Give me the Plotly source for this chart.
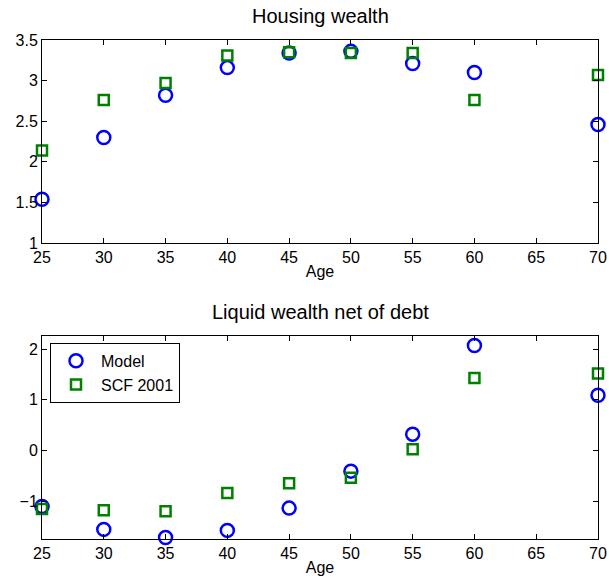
import plotly.graph_objects as go
from plotly.subplots import make_subplots

ages = [25, 30, 35, 40, 45, 50, 55, 60, 70]
housing_model = [1.54, 2.30, 2.82, 3.16, 3.34, 3.36, 3.21, 3.10, 2.46]
housing_scf = [2.14, 2.76, 2.97, 3.31, 3.35, 3.34, 3.34, 2.76, 3.07]
liquid_model = [-1.11, -1.56, -1.72, -1.58, -1.14, -0.41, 0.32, 2.07, 1.09]
liquid_scf = [-1.16, -1.18, -1.20, -0.84, -0.65, -0.54, 0.02, 1.43, 1.52]

x_ticks = [25, 30, 35, 40, 45, 50, 55, 60, 65, 70]
top_ticks = [1, 1.5, 2, 2.5, 3, 3.5]
bottom_ticks = [-1, 0, 1, 2]

BLUE = "rgb(0,0,255)"
GREEN = "rgb(0,128,0)"
FONT = "Liberation Sans, Arial, sans-serif"

fig = make_subplots(rows=2, cols=1, vertical_spacing=0.186)

circle = dict(symbol="circle-open", size=13, color=BLUE, line=dict(width=2.5, color=BLUE))
square = dict(symbol="square-open", size=10, color=GREEN, line=dict(width=2.5, color=GREEN))

fig.add_trace(go.Scatter(x=ages, y=housing_model, mode="markers", marker=circle,
                         name="Model", showlegend=False, cliponaxis=False), row=1, col=1)
fig.add_trace(go.Scatter(x=ages, y=housing_scf, mode="markers", marker=square,
                         name="SCF 2001", showlegend=False, cliponaxis=False), row=1, col=1)
fig.add_trace(go.Scatter(x=ages, y=liquid_model, mode="markers", marker=circle,
                         name="Model", showlegend=True, cliponaxis=False), row=2, col=1)
fig.add_trace(go.Scatter(x=ages, y=liquid_scf, mode="markers", marker=square,
                         name="SCF 2001", showlegend=True, cliponaxis=False), row=2, col=1)

axis_common = dict(showgrid=False, zeroline=False, showline=True, linecolor="black",
                   linewidth=1, mirror="ticks", ticks="inside", ticklen=5, automargin=False,
                   tickcolor="black", tickfont=dict(family=FONT, size=16, color="black"))

for r in (1, 2):
    fig.update_xaxes(range=[25, 70], tickvals=x_ticks, ticktext=[str(t) for t in x_ticks],
                     title=dict(text="Age", font=dict(family=FONT, size=16, color="black"), standoff=0),
                     row=r, col=1, **axis_common)

fig.update_yaxes(range=[1, 3.5], tickvals=top_ticks, ticktext=["1", "1.5", "2", "2.5", "3", "3.5"],
                 row=1, col=1, **axis_common)
fig.update_yaxes(range=[-1.75, 2.26], tickvals=bottom_ticks, ticktext=["\u22121", "0", "1", "2"],
                 row=2, col=1, **axis_common)

fig.update_layout(
    width=609, height=586,
    margin=dict(l=42, r=11, t=40, b=47, autoexpand=False),
    paper_bgcolor="white", plot_bgcolor="white",
    font=dict(family=FONT, color="black"),
    showlegend=True,
    legend=dict(x=0.0144, y=0.393, xanchor="left", yanchor="top",
                bordercolor="black", borderwidth=1, bgcolor="white",
                font=dict(family=FONT, size=16, color="black"),
                tracegroupgap=0, itemwidth=40),
    annotations=[
        dict(text="Housing wealth", x=0.5, y=1.0, xref="paper", yref="paper",
             xanchor="center", yanchor="bottom", yshift=11, showarrow=False,
             font=dict(family=FONT, size=20, color="black")),
        dict(text="Liquid wealth net of debt", x=0.5, y=0.407, xref="paper", yref="paper",
             xanchor="center", yanchor="bottom", yshift=11, showarrow=False,
             font=dict(family=FONT, size=20, color="black")),
    ],
)

fig.update_yaxes(domain=[0.593, 1.0], row=1, col=1)
fig.update_yaxes(domain=[0.0, 0.407], row=2, col=1)

fig.write_html("out.html", config={"displayModeBar": False},
               post_script="document.body.style.margin='0';document.body.style.overflow='hidden';")
